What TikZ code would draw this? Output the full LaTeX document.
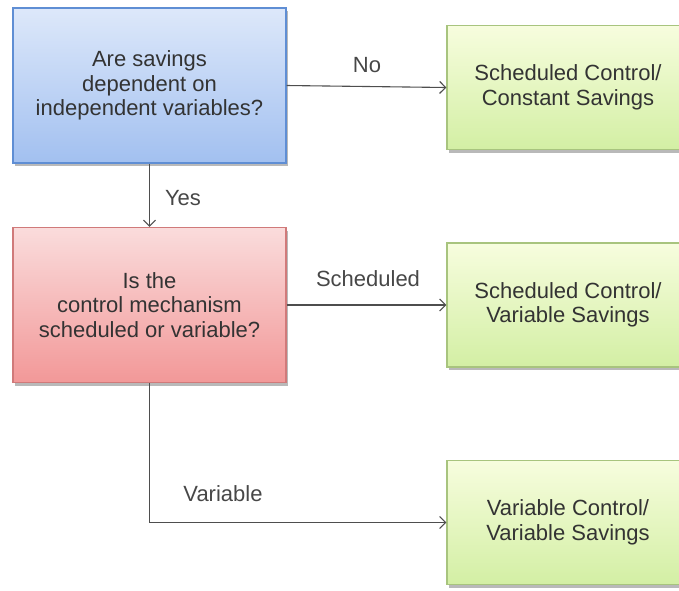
\documentclass[tikz,border=0pt]{standalone}
\usepackage{fontspec}
\setmainfont{Liberation Sans}
\usetikzlibrary{shadows,arrows.meta}
\definecolor{bluetop}{HTML}{DDE8FA}
\definecolor{bluebot}{HTML}{A2C0F0}
\definecolor{blueline}{HTML}{5F8ED4}
\definecolor{redtop}{HTML}{FADCDC}
\definecolor{redbot}{HTML}{F29898}
\definecolor{redline}{HTML}{D07A7A}
\definecolor{greentop}{HTML}{F7FDDE}
\definecolor{greenbot}{HTML}{D3EFA4}
\definecolor{greenline}{HTML}{A8C47E}
\definecolor{arrowgray}{HTML}{4E4E4E}

\begin{document}
\begin{tikzpicture}[x=1pt,y=-1pt,
	box/.style={rectangle,draw,line width=1.2pt,align=center,inner sep=0pt,
		font=\fontsize{22}{24.5}\selectfont,text=black!80,
		drop shadow={shadow xshift=2pt,shadow yshift=-3pt,fill=black!50,opacity=0.55}},
	question/.style={box,minimum width=273pt,minimum height=155pt},
	answer/.style={box,minimum width=242pt,minimum height=124pt,
		top color=greentop,bottom color=greenbot,draw=greenline},
	link/.style={draw=arrowgray,line width=1.1pt,-{Straight Barb[length=6pt,width=12pt]}},
	tag/.style={font=\fontsize{22}{26}\selectfont,text=black!72}]
\useasboundingbox (0,0) rectangle (679,590);
\node [question,top color=bluetop,bottom color=bluebot,draw=blueline] (savings) at (149.5,85.5)
	{Are savings\\dependent on\\independent variables?};
\node [question,top color=redtop,bottom color=redbot,draw=redline] (mechanism) at (149.5,305)
	{Is the\\control mechanism\\scheduled or variable?};
\node [answer] (constant) at (568,87.5) {Scheduled Control/\\Constant Savings};
\node [answer] (schedvar) at (568,305) {Scheduled Control/\\Variable Savings};
\node [answer] (varvar) at (568,522.5) {Variable Control/\\Variable Savings};
\draw [link] (savings.east) -- (constant.west);
\draw [link] (savings.south) -- (mechanism.north);
\draw [link] (mechanism.east) -- (schedvar.west);
\draw [link] (mechanism.south) |- (varvar.west);
\node [tag] (no) at (367,65) {No};
\node [tag] (yes) at (183,198) {Yes};
\node [tag] (sched) at (368,279) {Scheduled};
\node [tag] (var) at (223,494) {Variable};
\end{tikzpicture}
\end{document}
